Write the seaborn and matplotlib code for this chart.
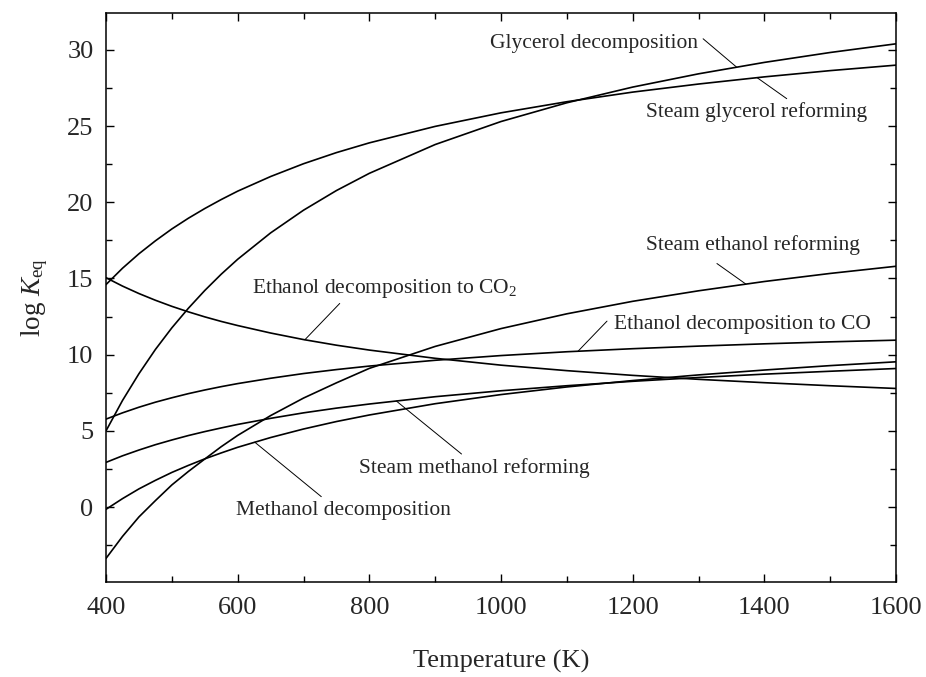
import numpy as np
import pandas as pd
import matplotlib
matplotlib.use("Agg")
import matplotlib.pyplot as plt
import seaborn as sns
from matplotlib.ticker import MultipleLocator

# Temperature grid (K) and log K_eq of each reaction
temperature = [400, 425, 450, 475, 500, 525, 550, 575, 600, 650, 700, 750, 800,
               900, 1000, 1100, 1200, 1300, 1400, 1500, 1600]

glycerol_decomposition = [5.0, 6.99, 8.75, 10.34, 11.76, 13.04, 14.21, 15.28, 16.26, 17.99, 19.48, 20.77, 21.9,
                          23.79, 25.3, 26.53, 27.56, 28.43, 29.18, 29.83, 30.4]
steam_glycerol_reforming = [14.6, 15.67, 16.62, 17.47, 18.25, 18.95, 19.59, 20.18, 20.73, 21.69, 22.53, 23.26, 23.9,
                            24.98, 25.87, 26.6, 27.23, 27.76, 28.23, 28.64, 29.0]
ethanol_decomposition_co2 = [15.05, 14.5, 14.01, 13.57, 13.17, 12.81, 12.48, 12.18, 11.91, 11.42, 10.99, 10.62, 10.3,
                             9.76, 9.31, 8.95, 8.64, 8.38, 8.16, 7.96, 7.78]
steam_ethanol_reforming = [-3.37, -1.93, -0.65, 0.42, 1.45, 2.33, 3.15, 3.96, 4.7, 6.0, 7.15, 8.15, 9.1,
                           10.54, 11.71, 12.68, 13.5, 14.19, 14.8, 15.33, 15.8]
ethanol_decomposition_co = [5.77, 6.18, 6.55, 6.88, 7.17, 7.44, 7.68, 7.9, 8.1, 8.45, 8.76, 9.02, 9.25,
                            9.63, 9.94, 10.19, 10.39, 10.56, 10.71, 10.84, 10.95]
steam_methanol_reforming = [2.93, 3.36, 3.74, 4.09, 4.4, 4.69, 4.95, 5.19, 5.42, 5.82, 6.18, 6.49, 6.76,
                            7.24, 7.63, 7.96, 8.25, 8.5, 8.72, 8.91, 9.09]
methanol_decomposition = [-0.15, 0.55, 1.19, 1.75, 2.27, 2.73, 3.16, 3.55, 3.92, 4.56, 5.12, 5.61, 6.04,
                          6.78, 7.38, 7.88, 8.3, 8.67, 8.99, 9.28, 9.53]

series = {
    "Glycerol decomposition": glycerol_decomposition,
    "Steam glycerol reforming": steam_glycerol_reforming,
    "Ethanol decomposition to CO$_2$": ethanol_decomposition_co2,
    "Steam ethanol reforming": steam_ethanol_reforming,
    "Ethanol decomposition to CO": ethanol_decomposition_co,
    "Steam methanol reforming": steam_methanol_reforming,
    "Methanol decomposition": methanol_decomposition,
}

df = pd.concat(
    [pd.DataFrame({"T": temperature, "logK": vals, "reaction": name}) for name, vals in series.items()],
    ignore_index=True,
)

sns.set_theme(style="ticks")
plt.rcParams["font.family"] = ["Liberation Serif", "DejaVu Serif"]
plt.rcParams["mathtext.fontset"] = "custom"
plt.rcParams["mathtext.rm"] = "Liberation Serif"
plt.rcParams["mathtext.it"] = "Liberation Serif:italic"

fig = plt.figure(figsize=(9.26, 6.77), dpi=100)
ax = fig.add_axes([0.1145, 0.1408, 0.8531, 0.8395])

sns.lineplot(data=df, x="T", y="logK", units="reaction", estimator=None,
             color="black", linewidth=1.2, ax=ax, legend=False, sort=False)

ax.set_xlim(400, 1600)
ax.set_ylim(-4.9, 32.4)
ax.xaxis.set_major_locator(MultipleLocator(200))
ax.xaxis.set_minor_locator(MultipleLocator(100))
ax.set_yticks([0, 5, 10, 15, 20, 25, 30])
ax.yaxis.set_minor_locator(MultipleLocator(2.5))

ax.tick_params(which="both", direction="in", top=True, right=True, color="black", width=1.0)
ax.tick_params(which="major", length=6, labelsize=19)
ax.tick_params(axis="x", which="major", pad=11)
ax.tick_params(axis="y", which="major", pad=9)
ax.tick_params(which="minor", length=4)
for sp in ax.spines.values():
    sp.set_visible(True)
    sp.set_linewidth(1.1)
    sp.set_color("black")

ax.set_xlabel("Temperature (K)", fontsize=19, labelpad=22)
ax.set_ylabel(r"log $K_{\mathrm{eq}}$", fontsize=19.5, labelpad=12)

# Labels with leader lines; the leader ends on its curve
labels = [
    ("Glycerol decomposition", glycerol_decomposition, (983, 30.4), (1307, 30.73), 1358),
    ("Steam glycerol reforming", steam_glycerol_reforming, (1221, 25.9), (1434, 26.8), 1389),
    ("Steam ethanol reforming", steam_ethanol_reforming, (1221, 17.18), (1328, 15.98), 1372),
    ("Ethanol decomposition to CO$_2$", ethanol_decomposition_co2, (621, 14.36), (755, 13.36), 702),
    ("Ethanol decomposition to CO", ethanol_decomposition_co, (1171, 12.0), (1161, 12.2), 1117),
    ("Steam methanol reforming", steam_methanol_reforming, (785, 2.54), (940, 3.48), 841),
    ("Methanol decomposition", methanol_decomposition, (598, -0.24), (727, 0.68), 626),
]
for text, vals, (tx, ty), (lx, ly), tend in labels:
    yend = np.interp(tend, temperature, vals)
    ax.plot([lx, tend], [ly, yend], color="black", linewidth=0.7)
    ax.text(tx, ty, text, fontsize=15.5, ha="left", va="center")

fig.savefig("out.png", dpi=100)
